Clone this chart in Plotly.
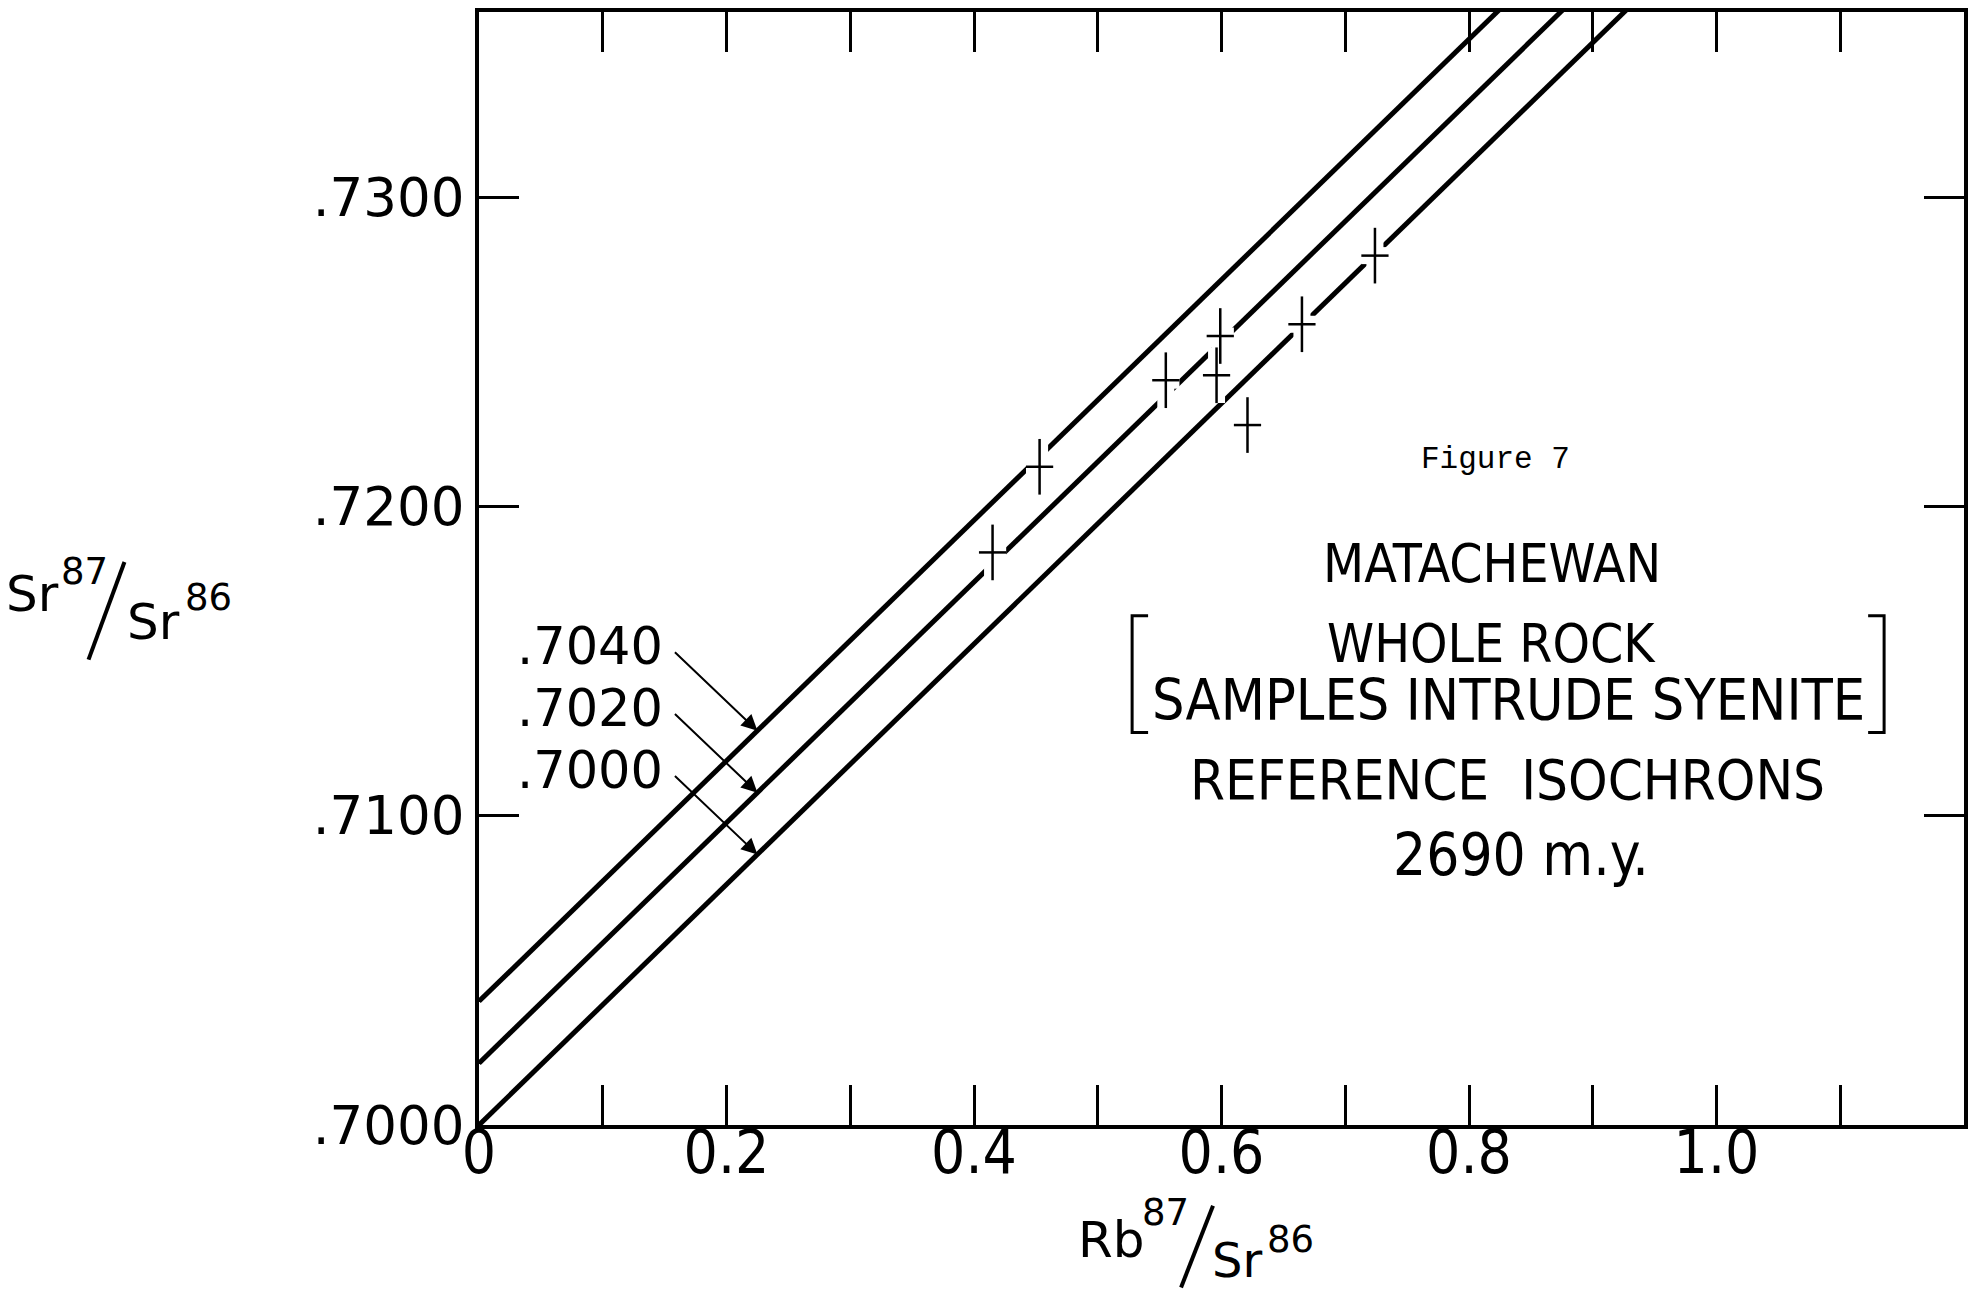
import plotly.graph_objects as go

# ---------------- data ----------------
x_tickvals = [0, 0.2, 0.4, 0.6, 0.8, 1.0]
x_ticktext = ["0", "0.2", "0.4", "0.6", "0.8", "1.0"]
x_minor_ticks = [0.1, 0.3, 0.5, 0.7, 0.9, 1.1]
y_tickvals = [0.70, 0.71, 0.72, 0.73]
y_ticktext = [".7000", ".7100", ".7200", ".7300"]

# reference isochrons (2690 m.y.), end points
iso_labels = [".7040", ".7020", ".7000"]
iso_x = [0.0, 1.0]
iso_y_7040 = [0.7040, 0.7429]
iso_y_7020 = [0.7020, 0.7409]
iso_y_7000 = [0.7000, 0.7389]
iso_series = [iso_y_7040, iso_y_7020, iso_y_7000]

# arrow tips on each isochron
arrow_x = 0.225
arrow_y = [0.71275, 0.71075, 0.70875]

# whole-rock samples
rb_sr = [0.415, 0.453, 0.555, 0.599, 0.596, 0.621, 0.665, 0.724]
sr_sr = [0.71852, 0.72129, 0.72409, 0.72552, 0.72425, 0.72264, 0.72590, 0.72812]
x_err = 0.011
y_err = 0.0009

# ---------------- figure ----------------
W, H = 1976, 1293
L, R, T, B = 479, 10, 8, 168
PW, PH = W - L - R, H - T - B


def px(xp):
    return (xp - L) / PW


def py(yp):
    return (H - B - yp) / PH


fig = go.Figure()

for ys in iso_series:
    fig.add_trace(go.Scatter(x=iso_x, y=ys, mode="lines",
                             line=dict(color="black", width=5),
                             hoverinfo="skip", showlegend=False))

# white gaps where error crosses cut the isochrons
fig.add_trace(go.Scatter(
    x=rb_sr, y=sr_sr, mode="markers",
    marker=dict(size=1, color="white"),
    error_x=dict(type="constant", value=x_err, width=0, thickness=17, color="white"),
    error_y=dict(type="constant", value=y_err, width=0, thickness=17, color="white"),
    hoverinfo="skip", showlegend=False))

fig.add_trace(go.Scatter(
    x=rb_sr, y=sr_sr, mode="markers",
    marker=dict(size=2, color="black"),
    error_x=dict(type="constant", value=x_err, width=0, thickness=2.5, color="black"),
    error_y=dict(type="constant", value=y_err, width=0, thickness=2.5, color="black"),
    showlegend=False))

ann = []
shapes = []

# isochron labels with arrows
for lab, ay in zip(iso_labels, arrow_y):
    ann.append(dict(x=arrow_x, y=ay, xref="x", yref="y", text="",
                    showarrow=True, arrowhead=2, arrowsize=1.6, arrowwidth=2,
                    arrowcolor="black", axref="pixel", ayref="pixel",
                    ax=-84, ay=-80, standoff=0))
    ann.append(dict(x=arrow_x, y=ay, xref="x", yref="y", text=lab,
                    showarrow=False, xanchor="right", yanchor="middle",
                    xshift=-92, yshift=84,
                    font=dict(family="DejaVu Sans", size=51, color="black")))

title_family = "Liberation Sans Narrow, DejaVu Sans Condensed, Liberation Sans"
for txt, xc, yc, sz, hh in [("MATACHEWAN", 1493, 561, 53, None),
                            ("WHOLE ROCK", 1493, 641, 53, 48),
                            ("SAMPLES INTRUDE SYENITE", 1510, 698, 57, 50),
                            ("REFERENCE&nbsp;&nbsp;ISOCHRONS", 1509, 778, 56, None),
                            ("2690 m.y.", 1522, 854, 58, None)]:
    a = dict(x=px(xc), y=py(yc), xref="paper", yref="paper", text=txt,
             showarrow=False, xanchor="center", yanchor="middle", valign="middle",
             font=dict(family=title_family, size=sz, color="black"))
    if hh:
        a["height"] = hh
    ann.append(a)

ann.append(dict(x=px(1497), y=py(457), xref="paper", yref="paper", text="Figure 7",
                showarrow=False, xanchor="center", yanchor="middle",
                font=dict(family="Liberation Mono", size=31, color="black")))

# brackets
for (xv, xa) in [(1133, 1149), (1886, 1870)]:
    shapes.append(dict(type="path", xref="paper", yref="paper",
                       path=f"M {px(xa)},{py(614)} L {px(xv)},{py(614)} L {px(xv)},{py(731)} L {px(xa)},{py(731)}",
                       line=dict(color="black", width=3)))

# axis titles built as stacked ratio
lab_font = dict(family="DejaVu Sans", size=50, color="black")
lab_font_low = dict(family="DejaVu Sans", size=48, color="black")
sup_font = dict(family="DejaVu Sans", size=37, color="black")


def ratio(parts, slash):
    for txt, xc, yc, f in parts:
        ann.append(dict(x=px(xc), y=py(yc), xref="paper", yref="paper", text=txt,
                        showarrow=False, xanchor="center", yanchor="middle", font=f))
    (x0, y0), (x1, y1) = slash
    shapes.append(dict(type="line", xref="paper", yref="paper",
                       x0=px(x0), y0=py(y0), x1=px(x1), y1=py(y1),
                       line=dict(color="black", width=4)))


ratio([("Sr", 32, 592, lab_font), ("87", 84, 570, sup_font),
       ("Sr", 153, 620, lab_font), ("86", 208, 596, sup_font)],
      ((88, 658), (124, 560)))
ratio([("Rb", 1112, 1240, lab_font), ("87", 1166, 1213, sup_font),
       ("Sr", 1238, 1260, lab_font_low), ("86", 1292, 1240, sup_font)],
      ((1182, 1288), (1214, 1206)))

axis_common = dict(showline=True, linewidth=4, linecolor="black", mirror="allticks",
                   ticks="inside", ticklen=40, tickwidth=2.5, tickcolor="black",
                   showgrid=False, zeroline=False)

fig.update_xaxes(range=[0, 1.2], tickmode="array", tickvals=x_tickvals, ticktext=x_ticktext,
                 tickfont=dict(family=title_family, size=60, color="black"),
                 ticklabelstandoff=-28,
                 minor=dict(tickmode="array", tickvals=x_minor_ticks, ticks="inside",
                            ticklen=40, tickwidth=2.5, tickcolor="black", showgrid=False),
                 **axis_common)
fig.update_yaxes(range=[0.7, 0.736], tickmode="array", tickvals=y_tickvals, ticktext=y_ticktext,
                 tickfont=dict(family="DejaVu Sans", size=53, color="black"),
                 ticklabelstandoff=0,
                 **axis_common)

fig.update_layout(width=W, height=H, margin=dict(l=L, r=R, t=T, b=B),
                  paper_bgcolor="white", plot_bgcolor="white",
                  showlegend=False, annotations=ann, shapes=shapes)

fig.write_html("out.html")
